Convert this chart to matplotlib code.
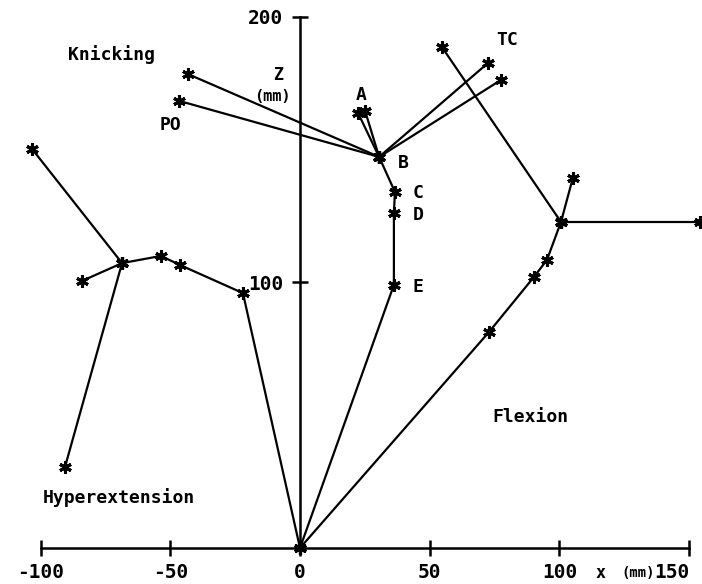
import numpy as np
import matplotlib
matplotlib.use("Agg")
import matplotlib.pyplot as plt
from matplotlib.transforms import ScaledTranslation

# positions in mm (x horizontal, z vertical)
spine_x = [0, 36.2, 36.2, 36.6, 30.5]          # origin -> E -> D -> C -> B
spine_z = [0, 99.1, 126.2, 134.1, 147.3]
spine_tips_x = [22.4, 25.1, -46.6, -43.2, 72.5, 77.5]   # A, A, PO, PO, TC, TC
spine_tips_z = [163.8, 164.6, 168.4, 178.5, 182.7, 176.3]

hyper_x = [0, -22.0, -46.3, -53.6, -68.6]
hyper_z = [0, 96.0, 106.6, 110.0, 107.3]
hyper_tips_x = [-84.0, -103.3, -90.6]
hyper_tips_z = [100.6, 150.3, 30.5]

flex_x = [0, 72.9, 90.2, 95.2, 100.6]
flex_z = [0, 81.4, 102.1, 108.5, 122.8]
flex_tips_x = [105.2, 54.7, 154.2]
flex_tips_z = [139.4, 188.7, 122.8]

xticks = [-100, -50, 0, 50, 100, 150]
yticks = [100, 200]

font = dict(family="DejaVu Sans Mono", fontweight="bold")

fig = plt.figure(figsize=(7.02, 5.84), dpi=100)
ax = fig.add_axes([0, 0, 1, 1])
ax.set_xlim(-115.65, 154.97)
ax.set_ylim(-13.56, 206.4)

mk = dict(color="black", lw=1.6, marker=(6, 2, 0), ms=9, mew=2.2, clip_on=False)

def draw_arm(xs, zs, tx, tz):
    ax.plot(xs, zs, **mk)
    for i in range(len(tx)):
        ax.plot([xs[-1], tx[i]], [zs[-1], tz[i]], **mk)

draw_arm(spine_x, spine_z, spine_tips_x, spine_tips_z)
draw_arm(hyper_x, hyper_z, hyper_tips_x, hyper_tips_z)
draw_arm(flex_x, flex_z, flex_tips_x, flex_tips_z)

# axes through the origin
for s in ["top", "right"]:
    ax.spines[s].set_visible(False)
ax.spines["left"].set_position(("data", 0))
ax.spines["bottom"].set_position(("data", 0))
ax.spines["left"].set_bounds(0, 200)
ax.spines["bottom"].set_bounds(-100, 150)
ax.spines["left"].set_linewidth(1.8)
ax.spines["bottom"].set_linewidth(1.8)
ax.set_xticks(xticks)
ax.set_xticklabels([str(t) for t in xticks], fontsize=14, **font)
last = ax.get_xticklabels()[-1]
last.set_horizontalalignment("right")
last.set_transform(last.get_transform() + ScaledTranslation(0.12, 0, fig.dpi_scale_trans))
ax.set_yticks(yticks)
ax.set_yticklabels([str(t) for t in yticks], fontsize=14, **font)
ax.tick_params(axis="x", direction="inout", length=12, width=1.8, pad=5)
ax.tick_params(axis="y", direction="inout", length=12, width=1.8, pad=6)

txt = dict(fontsize=13, ha="center", va="center", **font)
ax.text(-72.5, 185.7, "Knicking", **txt)
ax.text(-8.6, 178.1, "Z", fontsize=12, ha="center", va="center", **font)
ax.text(-10.8, 169.9, "(mm)", fontsize=11, ha="center", va="center", **font)
ax.text(-50.1, 159.3, "PO", **txt)
ax.text(23.5, 170.6, "A", **txt)
ax.text(39.7, 145.0, "B", **txt)
ax.text(45.5, 133.7, "C", **txt)
ax.text(45.5, 125.4, "D", **txt)
ax.text(45.5, 98.3, "E", **txt)
ax.text(79.8, 191.3, "TC", **txt)
ax.text(88.7, 49.3, "Flexion", **txt)
ax.text(-69.8, 19.2, "Hyperextension", **txt)
ax.text(116.0, -9.6, "x", fontsize=12, ha="center", va="center", **font)
ax.text(130.5, -9.6, "(mm)", fontsize=10, ha="center", va="center", **font)

fig.savefig("out.png", dpi=100)
